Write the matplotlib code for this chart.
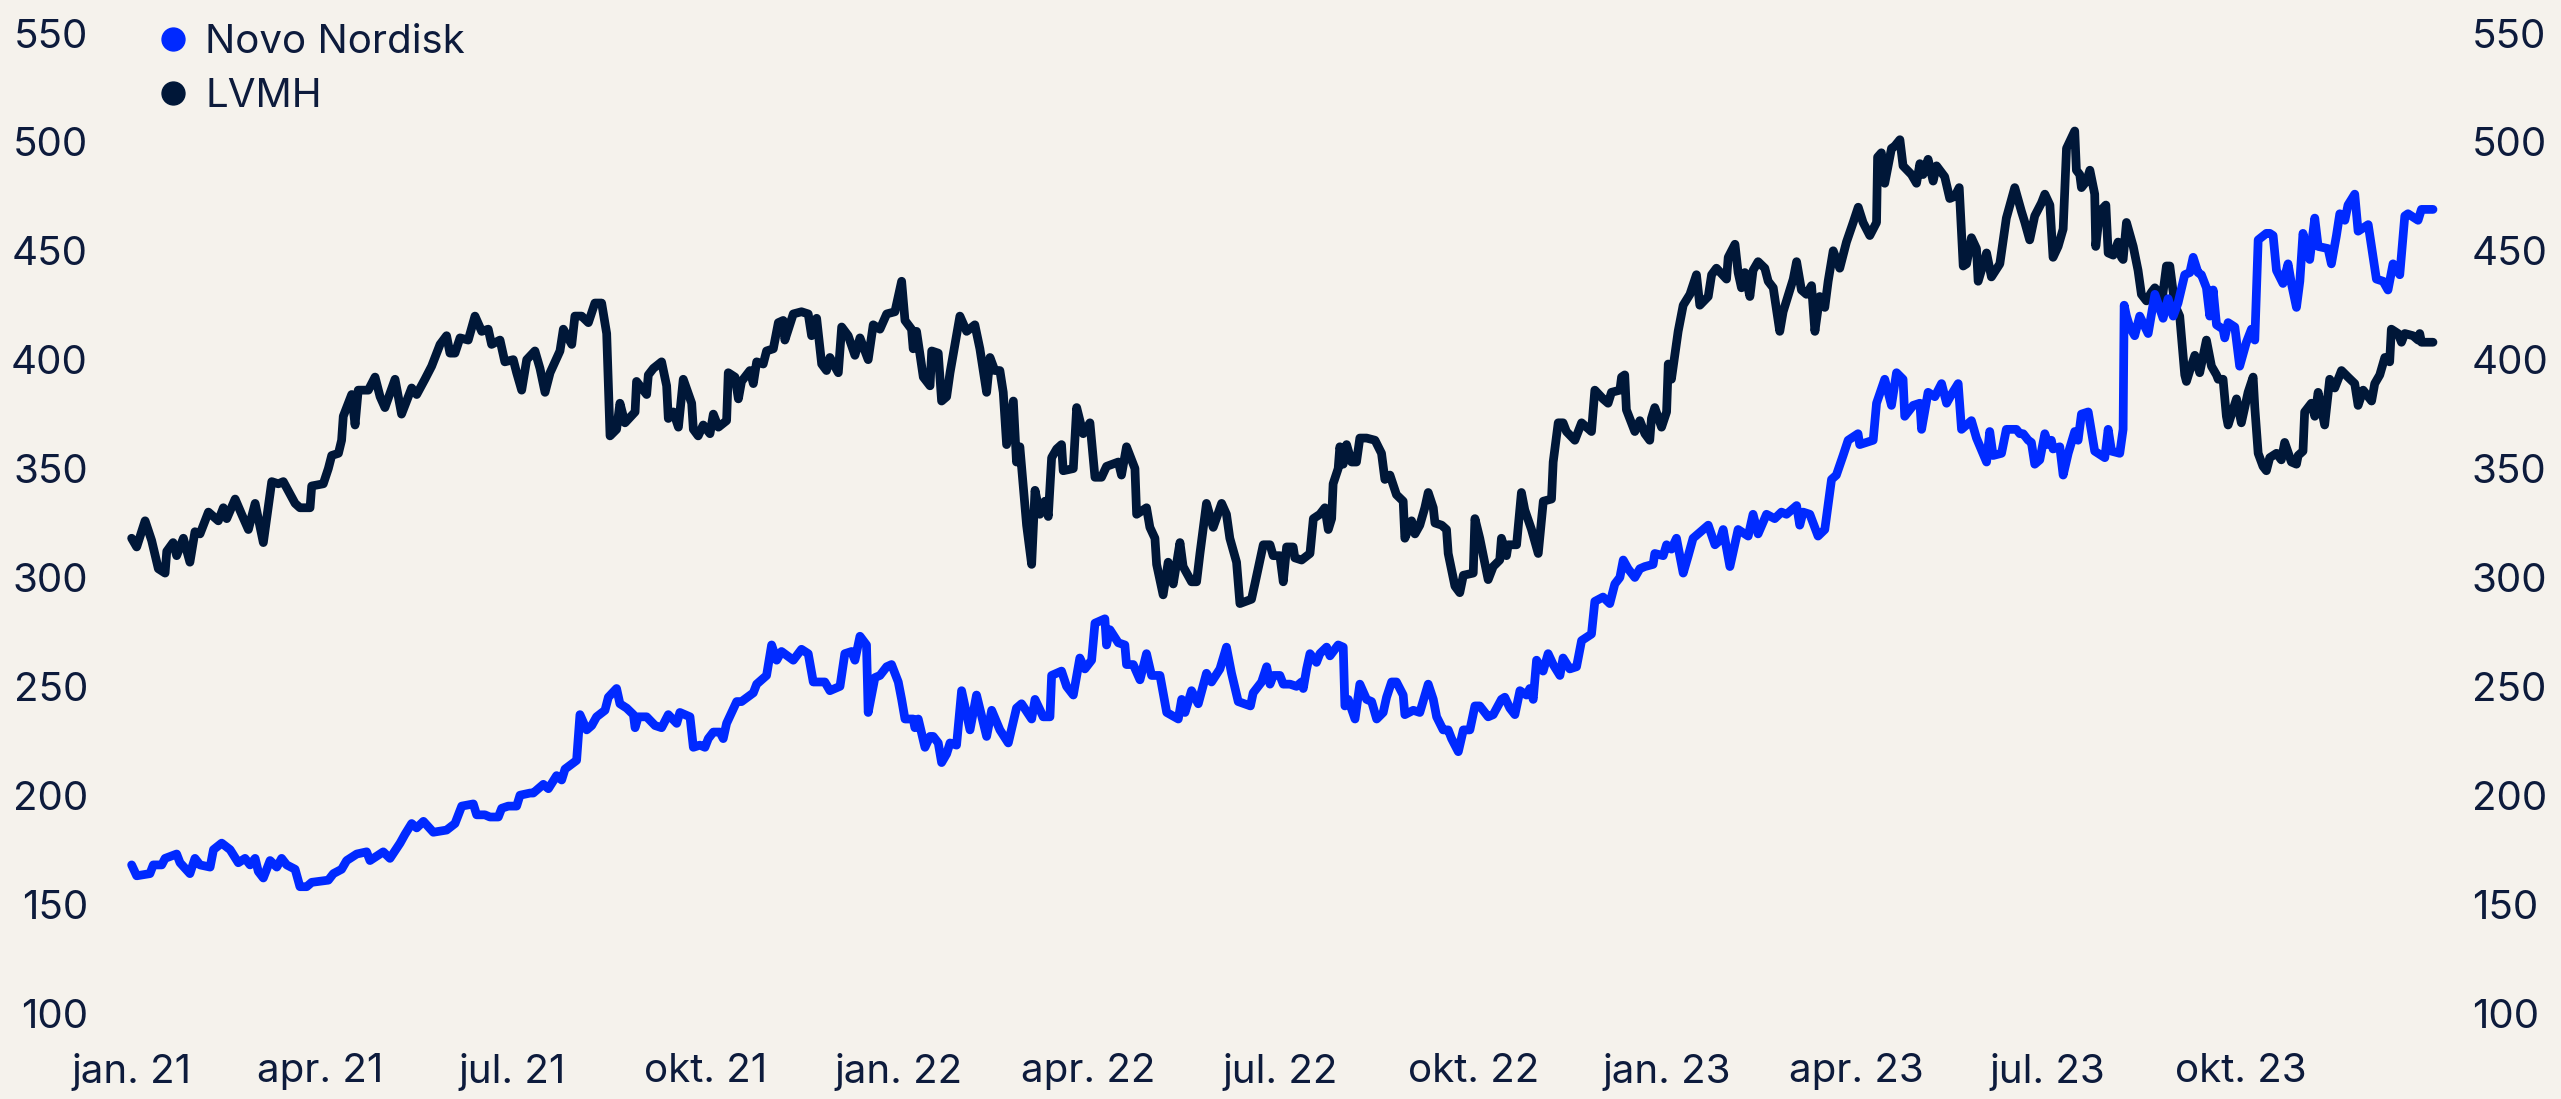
import pandas as pd
import matplotlib.pyplot as plt
from matplotlib.lines import Line2D

# values; x = days after 1 Jan 2021
start = pd.Timestamp("2021-01-01")

novo_days = [
    0.3, 2.7, 9, 10.6, 14.6, 16.2, 21.7, 23.3, 28, 30.4, 32.8, 37.6, 39.2, 43.1, 47.1, 51, 54.2, 56.6, 59, 60.5,
    62.9, 66.1, 69.3, 71.6, 74, 78, 80.3, 83.5, 85.9, 93.8, 96.2, 100.1, 102.5, 107.3, 112, 113.6, 119.9, 123.1,
    127.9, 130.2, 133.4, 135.8, 139, 143.7, 150, 154, 157.2, 162.7, 164.3, 168.2, 170.6, 174.6, 176.2, 179.3, 183.3,
    184.9, 189.7, 191.2, 196, 198.4, 202.3, 204.7, 206.3, 211.8, 213.4, 216.6, 219, 221.3, 225.3, 226.9, 230.8,
    232.4, 235.6, 238.8, 239.6, 241.1, 245.1, 249.1, 252.2, 255.4, 259.4, 260.9, 265.7, 267.3, 270.4, 272.8, 274.4,
    276.8, 279.9, 281.5, 283.1, 287.9, 290.2, 295.8, 297.4, 302.1, 304.5, 306.9, 309.2, 314.8, 318.7, 321.9, 324.3,
    329.8, 332.2, 337, 339.3, 342.5, 344.1, 346.5, 349.6, 350.4, 353.6,
    356, 359.2, 361.5, 364.7, 366.3, 367.9, 371.8, 372.6, 374.2, 377.4, 379.8, 381.3, 383.7, 385.3, 387.7, 389.3,
    392.4, 394.8, 398.8, 401.9, 406.7, 409.1, 413, 417, 420.9, 423.3, 428.1, 429.7, 433.6, 436.8, 437.6, 442.3,
    444.7, 447.9, 451, 453.4, 456.6, 458.2, 462.9, 463.7, 465.3, 469.3, 472.4, 473.2, 476.4, 479.6, 482.7, 485.1,
    489.1, 492.3, 497.8, 499.4, 501, 504.1, 507.3, 511.2, 513.6, 517.6, 520.7, 523.1, 526.3, 532.1, 533.4, 537.4,
    539.8, 541.4, 543, 546.1, 547.7, 550.9, 554, 556.4, 557.2, 558.8, 560.4, 563.5, 565.1, 568.3, 569.9, 573.8,
    576.2, 577, 578.6, 581.8, 584.1, 587.3, 589.7, 592.1, 595.2, 596.8, 599.2, 601.5, 604.7, 605.5, 609.5, 612.6,
    616.6, 619, 620.6, 623.7, 626.1, 627.7, 630.9, 633.3, 636.4, 638.8, 641.1, 645.1, 647.5, 651.4, 653, 655.4,
    657.8, 660.2, 663.3, 664.9, 666.5, 668.1, 671.2, 673.6, 676, 679.2, 680.7, 683.9, 687.1, 689.5, 694.2, 695.8,
    699.7, 702.9, 705.3, 707.7, 709.3, 711.6, 714.8, 717.2,
    719.6, 723.5, 724.3, 728.3, 729.9, 732.2, 734.6, 737.8, 740.2, 742.5, 744.9, 749.7, 752.9, 755.2, 756.8, 760,
    763.9, 768.7, 771, 773.4, 777.4, 781.3, 784.5, 786.9, 791.7, 793.2, 794.8, 798, 801.9, 805.1, 808.3, 810.6,
    813.8, 816.2, 820.9, 821.7, 828.1, 829.7, 833.6, 836.8, 839.2, 842.3, 843.1, 847.1, 850.3, 851.1, 854.2, 857.4,
    860.6, 863, 865.3, 868.5, 870.1, 874.8, 877.2, 882, 883.5, 885.1, 889.1, 891.4, 896.2, 897.8, 899.4,
    901.8, 903.3, 904.9, 907.3, 909.7, 911.3, 912.8, 913.6, 916.8, 918.4, 920.8, 923.9, 925.5, 927.1, 930.3, 933.4,
    936.6, 938.2, 939.8, 941.4, 945.3, 946.9, 947.4, 948.5, 950.1, 952.4, 954.8, 958.8, 962, 965.9, 968.3, 970.7,
    973, 976.2, 978.6, 980.2, 982.5, 984.1, 986.5, 988.1, 989.7, 991.3, 994.4, 995.2, 996.8, 1000, 1002.3, 1005.5,
    1007.9, 1009.5, 1011.1, 1015, 1016.6, 1018.2, 1019.8, 1022.9, 1025.3, 1026.9, 1029.3, 1030.9, 1032.4, 1035.6,
    1038, 1039.6, 1044.3, 1045.9, 1048.3, 1049.9, 1052.3, 1053.8, 1057, 1058.6, 1063.4, 1067.3, 1070.5, 1072.8,
    1075.2, 1078.4, 1080.8, 1082.3, 1087.1, 1088.7, 1091.8, 1094.2,
]
novo_vals = [
    168, 163, 164, 168, 168, 171, 173, 169, 164, 171, 168, 167, 175, 178, 175, 169, 171, 168, 171, 165,
    162, 170, 167, 171, 168, 166, 158, 158, 160, 161, 164, 166, 170, 173, 174, 170, 174, 171,
    178, 182, 187, 185, 188, 183, 184, 187, 195, 196, 191, 191, 190, 190, 194, 195, 195,
    200, 201, 201, 205, 203, 209, 207, 212, 216, 237, 230, 232, 236, 239, 245, 249,
    242, 240, 237, 231, 236, 236, 232, 231, 237, 233, 238, 236, 222, 223, 222, 226,
    229, 229, 226, 233, 243, 243, 247, 251, 255, 269, 262, 266, 262, 267, 265, 252,
    252, 248, 250, 265, 266, 262, 273, 269, 238, 254,
    255, 259, 260, 252, 244, 235, 235, 231, 235, 222, 227, 227, 224, 215, 219, 224,
    223, 248, 230, 246, 227, 239, 230, 224, 240, 242, 235, 244, 236, 236, 255, 257,
    250, 246, 263, 258, 262, 279, 281, 269, 276, 270, 269, 260, 260, 253, 265, 255,
    255, 238, 235, 244, 238, 248, 242, 256, 252, 258, 268, 256, 243, 241, 247, 252,
    259, 251, 255, 255, 251, 251, 250, 252, 249, 258, 265, 261, 265, 268, 264, 269,
    268, 241, 244, 235, 251, 244, 243, 235, 238, 245, 252, 252, 246, 237, 239, 238,
    251, 244, 236, 230, 230, 226, 220, 230, 230, 241, 241, 236, 237, 244, 245, 240,
    237, 248, 246, 249, 244, 262, 257, 265, 260, 255, 263, 258, 259, 271, 274, 289,
    291, 288, 297, 300, 308, 304, 300, 304,
    305, 306, 311, 310, 315, 313, 318, 302, 310, 318, 320, 324, 315, 317, 322, 305,
    322, 319, 329, 320, 329, 327, 330, 329, 333, 324, 330, 329, 319, 322, 345, 347,
    356, 363, 366, 361, 363, 380, 391, 379, 394, 391, 374, 379, 380, 368, 385, 383,
    389, 380, 384, 389, 368, 372, 364, 353, 367, 356, 357, 368, 368, 366, 366,
    363, 362, 352, 354, 366, 361, 363, 359, 360, 347, 357, 367, 363, 375, 376, 358,
    356, 355, 368, 358, 357, 368, 425, 420, 415, 411, 420, 412, 430, 419, 428, 420,
    426, 439, 440, 447, 440, 439, 433, 420, 432, 416, 414, 410, 417, 415, 397, 408,
    414, 409, 455, 458, 458, 457, 441, 435, 444, 435, 424, 436, 458, 446,
    465, 452, 451, 444, 457, 467, 464, 471, 476, 459, 462, 437, 436, 432,
    444, 439, 466, 467, 464, 469, 469, 469,
]

lvmh_days = [
    0.3, 2.7, 6.7, 9.8, 13, 16.2, 17, 20, 21.7, 24.9, 28, 30.4, 32.8, 36.8, 41.5, 43.9, 45.5, 49.5, 52.6, 55.8,
    59, 62.9, 66.9, 70, 72.4, 78, 80.3, 85.1, 85.9, 91.4, 93.8, 95.4, 98.6, 100.1, 100.9, 104.9, 106.5, 108,
    112.8, 116, 118.4, 120.7, 125.5, 128.6, 133.4, 135.8, 139.7, 142.9, 146.9, 150, 151.6, 154, 156.4, 160.3,
    163.5, 166.7, 169.8, 171.4, 175.4, 177.7, 181.7,
    183.3, 185.7, 188.1, 192, 194.4, 196.8, 199.2, 203.9, 205.5, 209.5, 211, 214.2, 217.4, 220.5, 223.7, 226.1,
    227.7, 230.8, 232.4, 234.8, 239.6, 240.3, 245.1, 245.9, 248.3, 252.2, 254.6, 255.4, 257.8, 260.2, 262.5,
    266.5, 267.3, 269.6, 272, 275.2, 276.8, 279.2, 283.1, 283.9, 287.1, 288.7, 290.2, 294.2, 295.8, 297.4, 300.5,
    302.1, 305.3, 307.7, 310, 310.8, 314.8, 318.7, 321.9, 323.5, 325.9, 328.3, 330.6, 332.2, 336.2, 337.8, 340.9,
    344.1, 346.5, 350.4, 352.8, 356, 359.2,
    363.1, 366.3, 367.9, 371, 371.8, 373.4, 376.6, 379.8, 380.6, 383.7, 385.3, 387.7, 389.3, 394, 397.2, 401.1,
    403.5, 406.7, 408.3, 410.6, 413, 414.6, 416.2, 419.4, 420.9, 422.5, 425.7, 428.1, 429.7, 432, 434.4, 436,
    437.6, 440, 442.3, 443.1, 447.9, 449.5, 452.6, 455.8, 458.2, 461.3, 463.7, 469.3, 470.8, 473.2, 477.2, 478,
    482.7, 484.3, 486.7, 487.5, 490.6, 493, 495.4, 498.6, 500.1, 504.1, 506.5, 508.1, 511.2, 514.4, 518.4, 520.7,
    522.3, 525.5, 527.1, 532.6, 534.2,
    538.2, 541.4, 542.9, 546.1, 547.7, 549.3, 552.4, 553.2, 556.4, 560.4, 562, 565.1, 567.5, 569.1, 570.7, 571.4,
    573.8, 574.6, 576.2, 577.8, 580.2, 582.5, 584.1, 587.3, 591.3, 594.4, 596, 598.4, 601.5, 604.7, 605.5, 608.7,
    610.3, 612.6, 615, 616.6, 619, 619.8, 623, 625.3, 626.1, 629.3, 631.6, 633.3, 638, 638.8, 641.1, 645.1, 647.5,
    650.6, 651.4, 653.8, 654.6, 658.6, 660.9, 662.5, 665.7, 668.9, 671.3, 675.2, 676, 678.4, 680.7, 682.3, 686.3,
    689.5, 694.2, 695.8, 699.7, 702.1, 703.7, 707.7, 708.5, 710, 710.8, 714.8,
    717.2, 719.6, 721.9, 722.7, 724.3, 727.5, 729.9, 730.7, 732.2, 735.4, 737.8, 741, 744.1, 745.7, 749.7, 751.3,
    753.6, 758.4, 759.2, 762.4, 763.9, 765.5, 767.1, 769.5, 771, 773.4, 776.6, 778.2, 780.6, 783.7, 785.3, 790.1,
    791.7, 794, 796.4, 798.8, 800.4, 802.7, 805.1, 806.7, 809.1, 812.2, 815.4, 818.6, 821, 823.3, 826.5, 829.7,
    830.2, 832, 833.6, 836.8, 838.3, 840.8, 842.3, 846.3, 848.7, 850.3, 851.8, 854.2, 856.6, 858.2, 862.1, 864.5,
    866.9, 869, 870.9, 872.5, 874.8, 877.2, 878, 882, 884.3, 888.3, 891.4, 895.4, 898.6,
    900.2, 902.5, 904.9, 908.1, 909.7, 912.1, 913.6, 916, 918.4, 920, 923.9, 924.7, 926.3, 927.1, 929.5, 931.1,
    933.4, 933.9, 935.8, 938.7, 939.8, 942.2, 944.5, 946.1, 946.9, 948.5, 951.7, 954, 955.6, 958, 960.4, 962,
    963.5, 965.1, 967.5, 969.1, 971.5, 973.8, 974.6, 976.2, 977, 978.6, 981, 983.3, 986.5, 988.9, 991.3, 992.1,
    994.4, 996, 996.8, 1000.8, 1003.1, 1006.3, 1008.7, 1009.5, 1011.1, 1013.4, 1015, 1016.6, 1019.8, 1022.1,
    1023.7, 1026.9, 1029.3, 1030.1, 1032.4, 1033.2, 1036.4, 1038, 1039.6, 1042.7, 1045.1, 1047.5, 1050.7, 1053.8,
    1057, 1058.6, 1061, 1065, 1066.5, 1068.9, 1071.3, 1073.6, 1074.4, 1077.6, 1079.2, 1080.8, 1084.7, 1087.1,
    1087.9, 1088.7, 1091.1, 1094.2,
]
lvmh_vals = [
    318, 314, 326, 317, 304, 302, 312, 316, 310, 318, 307, 321, 320, 330, 326, 332, 327, 336, 329, 322,
    334, 316, 344, 343, 344, 334, 332, 332, 342, 343, 350, 356, 357, 363, 374, 384, 370, 386,
    386, 392, 383, 378, 391, 375, 387, 384, 391, 397, 407, 411, 403, 403, 410, 409,
    420, 413, 414, 407, 409, 399, 400,
    394, 386, 400, 404, 396, 385, 394, 404, 414, 407, 420, 420, 417, 426, 426, 412,
    365, 368, 380, 371, 376, 390, 384, 393, 396, 399, 388, 373, 376, 369, 391,
    380, 368, 365, 370, 366, 375, 369, 372, 394, 392, 382, 390, 395, 389, 399, 398,
    404, 405, 417, 418, 409, 421, 422, 421, 411, 419, 398, 395, 401, 394, 415, 411,
    402, 410, 400, 416, 414, 421,
    422, 436, 418, 414, 405, 413, 392, 388, 404, 403, 381, 383, 394, 420, 413, 416,
    405, 385, 401, 395, 395, 385, 361, 381, 353, 360, 324, 306, 340, 329, 335, 328,
    355, 359, 361, 349, 350, 378, 366, 371, 346, 346, 351, 353, 347, 360, 350, 329,
    332, 323, 318, 306, 292, 307, 297, 316, 305, 298, 298, 311, 334, 323, 334, 329,
    318, 307, 288, 290, 297,
    315, 315, 310, 310, 298, 314, 314, 309, 308, 311, 327, 329, 332, 322, 327, 343,
    350, 360, 352, 361, 353, 353, 364, 364, 363, 357, 345, 347, 338, 335, 318, 326,
    320, 324, 332, 339, 332, 325, 324, 322, 311, 296, 293, 301, 302, 327, 318, 299, 305,
    308, 318, 310, 315, 315, 339, 331, 322, 311, 335, 336, 353, 371, 371, 367, 363,
    371, 367, 386, 382, 380, 385, 386, 392, 393, 377, 367,
    372, 366, 363, 373, 378, 369, 376, 398, 391, 413, 425, 430, 439, 425, 429, 439,
    442, 437, 447, 453, 440, 433, 440, 429, 441, 445, 442, 436, 433, 413, 422, 437,
    445, 432, 430, 434, 413, 429, 424, 436, 450, 442, 454, 463, 470, 463, 457, 463,
    493, 495, 481, 497, 498, 501, 489, 485, 481, 490, 485, 492, 482, 489, 484, 474,
    475, 479, 443, 444, 456, 451, 436, 449, 438, 444, 465, 479, 468,
    463, 455, 466, 472, 476, 471, 447, 452, 460, 497, 505, 487, 485, 479, 482, 487,
    476, 452, 468, 471, 449, 448, 454, 447, 446, 463, 452, 441, 430, 427, 431, 433,
    431, 425, 443, 443, 425, 420, 411, 393, 390, 395, 402, 394, 409, 397, 393, 391,
    391, 374, 370, 382, 371, 385, 392, 378, 357, 351, 349, 355, 357, 354,
    362, 353, 352, 356, 358, 376, 380, 374, 385, 370, 391, 387, 395, 392,
    389, 379, 386, 381, 389, 393, 401, 399, 414, 412, 408, 412, 411, 409,
    412, 408, 408, 408,
]

tick_dates = ["2021-01-01", "2021-04-01", "2021-07-01", "2021-10-01",
              "2022-01-01", "2022-04-01", "2022-07-01", "2022-10-01",
              "2023-01-01", "2023-04-01", "2023-07-01", "2023-10-01"]
tick_labels = ["jan. 21", "apr. 21", "jul. 21", "okt. 21",
               "jan. 22", "apr. 22", "jul. 22", "okt. 22",
               "jan. 23", "apr. 23", "jul. 23", "okt. 23"]
y_ticks = [100, 150, 200, 250, 300, 350, 400, 450, 500, 550]

bg = "#f5f2ec"
text_col = "#0d1b3c"
novo_col = "#0029ff"
lvmh_col = "#001738"

plt.rcParams["font.family"] = ["Inter", "DejaVu Sans"]

W, H = 2561, 1099
fig = plt.figure(figsize=(W / 100, H / 100), dpi=100, facecolor=bg)
ax = fig.add_axes([131 / W, (H - 1013) / H, (2433 - 131) / W, (1013 - 33) / H])
ax.set_facecolor(bg)

novo_x = start + pd.to_timedelta(novo_days, unit="D")
lvmh_x = start + pd.to_timedelta(lvmh_days, unit="D")

ax.plot(lvmh_x, lvmh_vals, color=lvmh_col, lw=6.3, solid_joinstyle="round",
        solid_capstyle="round", clip_on=False, zorder=2)
ax.plot(novo_x, novo_vals, color=novo_col, lw=6.3, solid_joinstyle="round",
        solid_capstyle="round", clip_on=False, zorder=3)

ax.set_xlim(start, start + pd.Timedelta(days=1094.2))
ax.set_ylim(100, 550)

ax.set_xticks(pd.to_datetime(tick_dates))
ax.set_xticklabels(tick_labels)
ax.set_yticks(y_ticks)
ax.set_yticklabels([str(v) for v in y_ticks])
ax.tick_params(axis="x", length=0, pad=29, labelsize=29, labelcolor=text_col)
ax.tick_params(axis="y", length=0, pad=31, labelsize=29, labelcolor=text_col)

ax2 = ax.twinx()
ax2.set_ylim(100, 550)
ax2.set_yticks(y_ticks)
ax2.set_yticklabels([str(v) for v in y_ticks])
ax2.tick_params(axis="y", length=0, pad=28, labelsize=29, labelcolor=text_col)

for a in (ax, ax2):
    for s in a.spines.values():
        s.set_visible(False)

handles = [
    Line2D([], [], marker="o", linestyle="", color=novo_col, markersize=16.5),
    Line2D([], [], marker="o", linestyle="", color=lvmh_col, markersize=16.5),
]
fig.legend(handles, ["Novo Nordisk", "LVMH"], loc="upper left",
           bbox_to_anchor=(153 / W, 1075 / H), frameon=False, fontsize=29,
           labelcolor=text_col, handlelength=1.0, handletextpad=0.3,
           labelspacing=0.42, borderpad=0, borderaxespad=0)

fig.savefig("out.png", dpi=100, facecolor=bg)
